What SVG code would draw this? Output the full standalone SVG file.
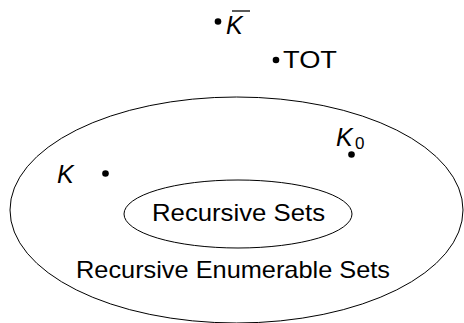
<svg xmlns="http://www.w3.org/2000/svg" width="464" height="323" viewBox="0 0 464 323">
<style>
.set{fill:none;stroke:#000;stroke-width:1}
.t{font-family:"Liberation Sans",Arial,sans-serif;fill:#000}
.i{font-style:italic}
.dot{fill:#000}
</style>
<rect width="464" height="323" fill="#fff"/>
<g id="re-sets">
<ellipse class="set" cx="236.5" cy="210" rx="226.5" ry="113"/>
<text class="t" x="233" y="278" font-size="24" text-anchor="middle" textLength="314" lengthAdjust="spacingAndGlyphs">Recursive Enumerable Sets</text>
</g>
<g id="recursive-sets">
<ellipse class="set" cx="238" cy="214" rx="114" ry="34"/>
<text class="t" x="238.5" y="221" font-size="24" text-anchor="middle" textLength="173" lengthAdjust="spacingAndGlyphs">Recursive Sets</text>
</g>
<g id="k">
<text class="t i" x="57" y="183" font-size="25">K</text>
<circle class="dot" cx="105.5" cy="173.5" r="3.3"/>
</g>
<g id="k0">
<text class="t i" x="336" y="146" font-size="25">K</text>
<text class="t" x="355" y="149" font-size="17">0</text>
<circle class="dot" cx="351.5" cy="154.5" r="3.3"/>
</g>
<g id="k-complement">
<circle class="dot" cx="218" cy="21.5" r="3.3"/>
<text class="t i" x="226" y="34" font-size="25">K</text>
<line x1="232" y1="11" x2="250" y2="11" stroke="#000" stroke-width="1.3"/>
</g>
<g id="tot">
<circle class="dot" cx="276" cy="60" r="3.3"/>
<text class="t" x="283" y="68" font-size="24" textLength="54" lengthAdjust="spacingAndGlyphs">TOT</text>
</g>
</svg>
